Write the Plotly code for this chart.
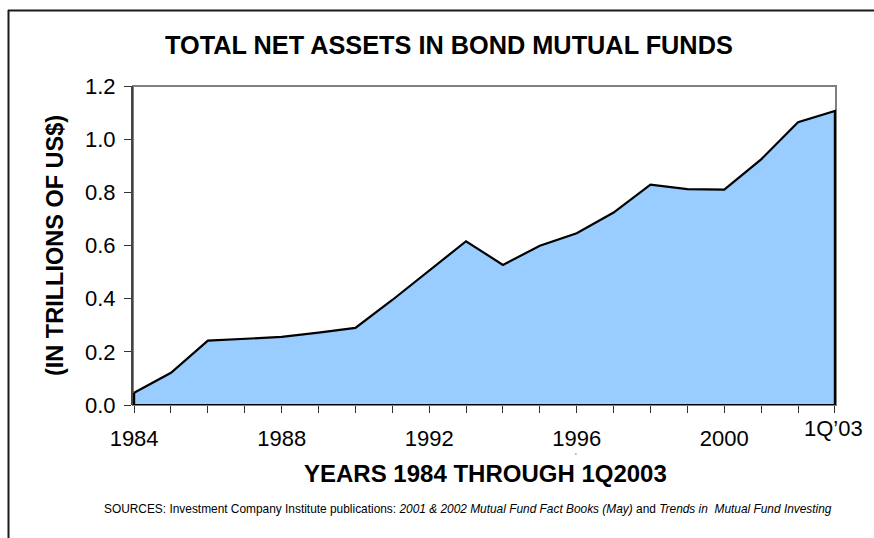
import plotly.graph_objects as go

# Total net assets in bond mutual funds, trillions of US$ (last point = 1Q 2003)
years = list(range(1984, 2004))
assets = [0.046, 0.121, 0.242, 0.248, 0.256, 0.272, 0.290, 0.395, 0.505, 0.616,
          0.527, 0.599, 0.646, 0.724, 0.829, 0.812, 0.810, 0.924, 1.064, 1.106]

label_years = [1984, 1988, 1992, 1996, 2000]
last_label = "1Q\u201903"
y_ticks = [0.0, 0.2, 0.4, 0.6, 0.8, 1.0, 1.2]

W, H = 874, 538
ML, MR, MT, MB = 133, 38, 86, 133
PW, PH = W - ML - MR, H - MT - MB


def px(x):
    return (x - ML) / PW


def py(y):
    return 1 - (y - MT) / PH


FONT = "Arial, Liberation Sans, sans-serif"

# closed outline: along the series, down the right edge, along the base, back up
poly_x = years + [years[-1], years[0], years[0]]
poly_y = assets + [0, 0, assets[0]]

fig = go.Figure()
fig.add_trace(go.Scatter(
    x=poly_x, y=poly_y, mode="lines", fill="toself",
    fillcolor="#99CCFF", line=dict(color="#000000", width=2.2),
    hoverinfo="skip", showlegend=False,
))

tick_text = [str(y) if y in label_years else "" for y in years]

fig.update_layout(
    width=W, height=H,
    margin=dict(l=ML, r=MR, t=MT, b=MB),
    paper_bgcolor="white", plot_bgcolor="white",
    font=dict(family=FONT, color="#000000"),
    xaxis=dict(
        range=[years[0] - 0.03, years[-1] + 0.03],
        tickmode="array", tickvals=years, ticktext=tick_text,
        ticks="outside", ticklen=7, tickwidth=1, tickcolor="#333333",
        ticklabelstandoff=7,
        tickfont=dict(size=22, family=FONT), showgrid=False, zeroline=False,
        showline=False, fixedrange=True,
    ),
    yaxis=dict(
        range=[0, 1.2],
        tickmode="array", tickvals=y_ticks,
        ticktext=[f"{v:.1f}" for v in y_ticks],
        ticks="outside", ticklen=7, tickwidth=1, tickcolor="#333333",
        ticklabelstandoff=4,
        tickfont=dict(size=22, family=FONT), showgrid=False, zeroline=False,
        showline=True, linecolor="#444444", linewidth=2, fixedrange=True,
    ),
    shapes=[
        # plot frame (grey)
        dict(type="rect", xref="x domain", yref="y domain", x0=0, x1=1, y0=0, y1=1,
             line=dict(color="#808080", width=2), layer="below"),
        # outer chart border: top and left edges
        dict(type="line", xref="paper", yref="paper", x0=px(8), x1=px(W + 2),
             y0=py(10.5), y1=py(10.5), line=dict(color="#1a1a1a", width=2)),
        dict(type="line", xref="paper", yref="paper", x0=px(8.5), x1=px(8.5),
             y0=py(10), y1=py(H + 2), line=dict(color="#1a1a1a", width=2)),
    ],
    annotations=[
        dict(text="<b>TOTAL NET ASSETS IN BOND MUTUAL FUNDS</b>", xref="paper", yref="paper",
             x=px(449), y=py(45), xanchor="center", yanchor="middle", showarrow=False,
             font=dict(size=25.3, family=FONT)),
        dict(text="<b>(IN TRILLIONS OF US$)</b>", xref="paper", yref="paper",
             x=px(55), y=py(246), xanchor="center", yanchor="middle", showarrow=False,
             textangle=-90, font=dict(size=23.5, family=FONT)),
        dict(text="<b>YEARS 1984 THROUGH 1Q2003</b>", xref="paper", yref="paper",
             x=px(485), y=py(474), xanchor="center", yanchor="middle", showarrow=False,
             font=dict(size=24, family=FONT)),
        dict(text=last_label, xref="x", yref="paper", x=years[-1] - 0.05, y=py(428),
             xanchor="center", yanchor="middle", showarrow=False,
             font=dict(size=22, family=FONT)),
        dict(text="\u2018", xref="paper", yref="paper", x=px(576), y=py(455),
             xanchor="center", yanchor="middle", showarrow=False,
             font=dict(size=8, family=FONT)),
        dict(text="SOURCES: Investment Company Institute publications: "
                  "<i>2001 &amp; 2002 Mutual Fund Fact Books (May)</i> and "
                  "<i>Trends in  Mutual Fund Investing</i>",
             xref="paper", yref="paper", x=px(468), y=py(509),
             xanchor="center", yanchor="middle", showarrow=False,
             font=dict(size=11.9, family=FONT)),
    ],
)

fig.write_html("out.html")
